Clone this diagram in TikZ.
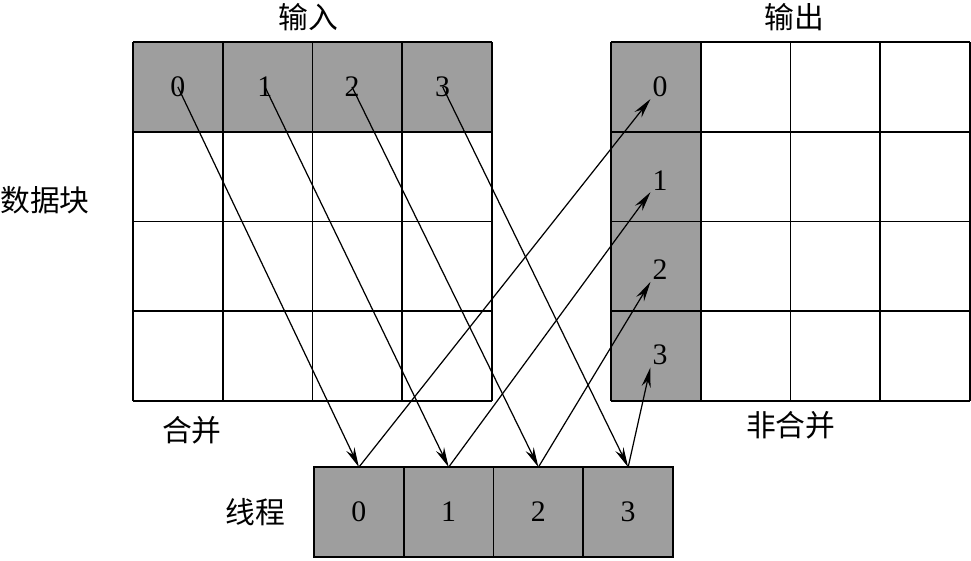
\documentclass[tikz,border=0pt]{standalone}
\usepackage{fontspec}
\setmainfont{Liberation Serif}
\newfontfamily\cjk{Noto Sans CJK SC}
\usetikzlibrary{arrows.meta,positioning}
\definecolor{cellgray}{RGB}{158,158,158}

\begin{document}
\begin{tikzpicture}[x=1.8cm, y=1.8cm, >={Stealth[length=4mm,width=1.8mm]},
    font=\fontsize{17}{20}\selectfont, node distance=0pt,
    grid/.style={line width=1pt, step={(1,1)}},
    thread/.style={draw, line width=1pt, fill=cellgray, minimum size=1.8cm, inner sep=0pt, outer sep=0pt},
    num/.style={inner sep=1pt},
    link/.style={->, line width=0.7pt}]
    \useasboundingbox (-1.482,-1.772) rectangle (9.337,4.468);
    % input block, output block
    \fill[cellgray] (0,3) rectangle (4,4);
    \draw[grid] (0,0) grid (4,4);
    \fill[cellgray] (5.326,0) rectangle (6.326,4);
    \draw[grid, shift={(5.326,0)}] (0,0) grid (4,4);
    % threads
    \node[thread] (t0) at (2.517,-1.237) {0};
    \node[thread, right=of t0] (t1) {1};
    \node[thread, right=of t1] (t2) {2};
    \node[thread, right=of t2] (t3) {3};
    \foreach \i/\x in {0/0.50,1/1.47,2/2.44,3/3.45}
        \node[num] (in\i) at (\x,3.5) {\i};
    \foreach \i/\y in {0/3.5,1/2.46,2/1.46,3/0.51}
        \node[num] (out\i) at (5.872,\y) {\i};
    \foreach \i in {0,...,3} {
        \draw[link] (in\i.center) -- (t\i.north);
        \draw[link] (t\i.north) -- (out\i.south west);
    }
    \node (inlabel) at (1.95,4.28) {\cjk 输入};
    \node (outlabel) at (7.365,4.28) {\cjk 输出};
    \node (blocklabel) at (-0.98,2.24) {\cjk 数据块};
    \node (mergelabel) at (0.657,-0.323) {\cjk 合并};
    \node (nomergelabel) at (7.33,-0.267) {\cjk 非合并};
    \node[left=0.45cm of t0] (threadlabel) {\cjk 线程};
\end{tikzpicture}
\end{document}
